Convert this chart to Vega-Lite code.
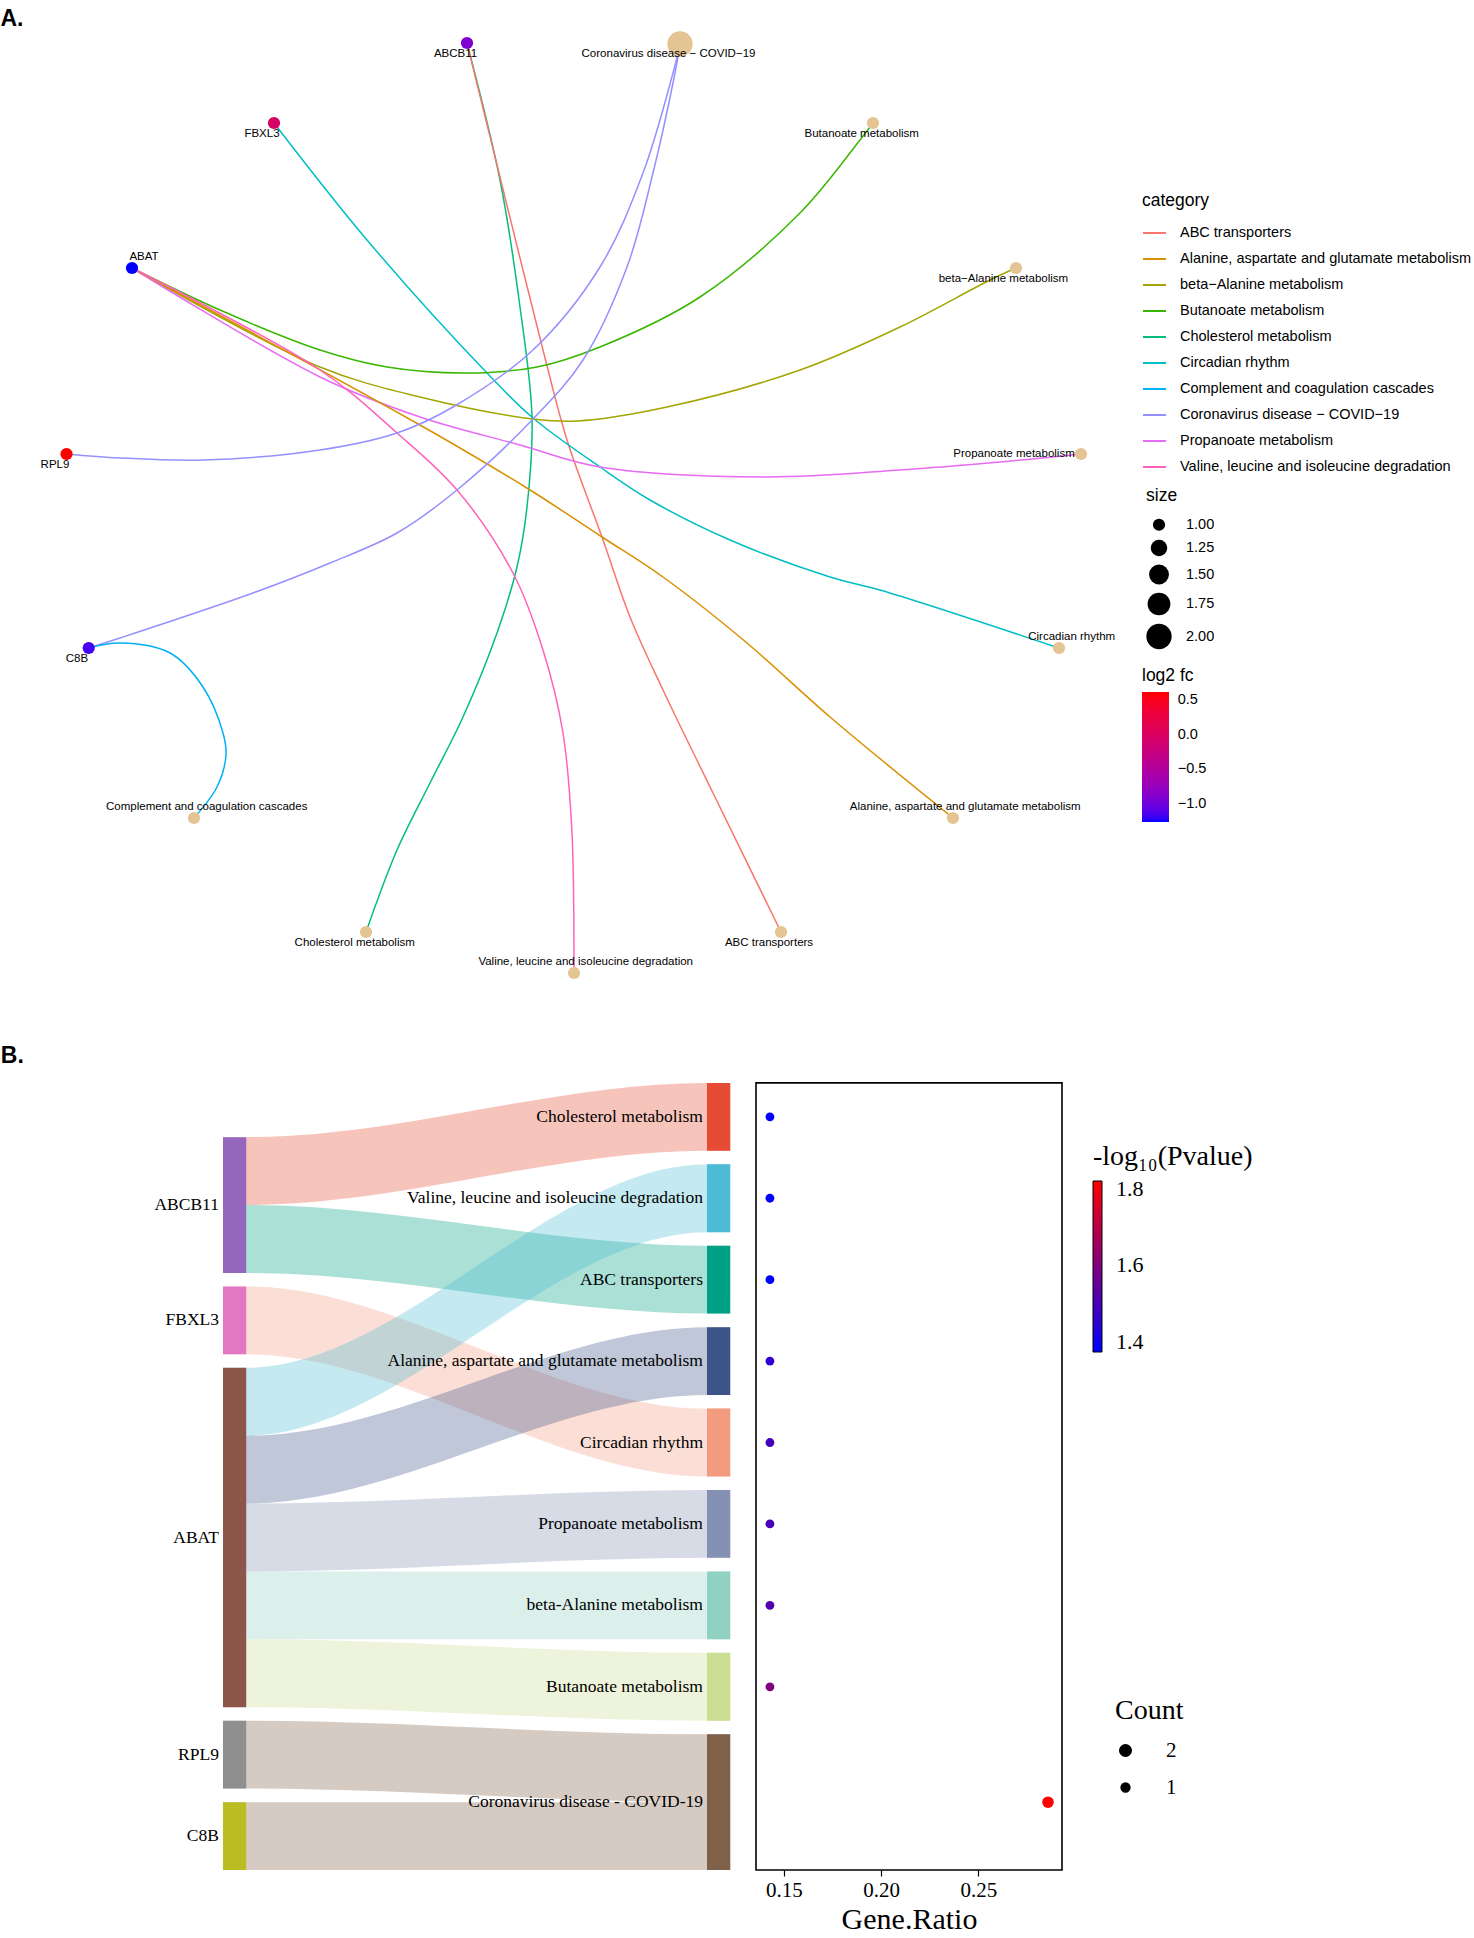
{
  "$schema": "https://vega.github.io/schema/vega-lite/v6.json",
  "padding": 0,
  "background": "white",
  "spacing": 40,
  "config": {
    "view": {"stroke": null},
    "legend": {"padding": 0}
  },
  "resolve": {
    "scale": {"color": "independent", "size": "independent", "x": "independent", "y": "independent"},
    "legend": {"color": "independent", "size": "independent"}
  },
  "datasets": {
    "edges": [
      {"edge": "ABCB11|Chol", "category": "Cholesterol metabolism", "i": 0, "x": 4.67, "y": 0.43},
      {"edge": "ABCB11|Chol", "category": "Cholesterol metabolism", "i": 1, "x": 5.00, "y": 1.80},
      {"edge": "ABCB11|Chol", "category": "Cholesterol metabolism", "i": 2, "x": 5.20, "y": 3.07},
      {"edge": "ABCB11|Chol", "category": "Cholesterol metabolism", "i": 3, "x": 5.32, "y": 4.17},
      {"edge": "ABCB11|Chol", "category": "Cholesterol metabolism", "i": 4, "x": 5.27, "y": 5.07},
      {"edge": "ABCB11|Chol", "category": "Cholesterol metabolism", "i": 5, "x": 5.17, "y": 5.67},
      {"edge": "ABCB11|Chol", "category": "Cholesterol metabolism", "i": 6, "x": 4.97, "y": 6.33},
      {"edge": "ABCB11|Chol", "category": "Cholesterol metabolism", "i": 7, "x": 4.63, "y": 7.17},
      {"edge": "ABCB11|Chol", "category": "Cholesterol metabolism", "i": 8, "x": 4.30, "y": 7.83},
      {"edge": "ABCB11|Chol", "category": "Cholesterol metabolism", "i": 9, "x": 3.97, "y": 8.50},
      {"edge": "ABCB11|Chol", "category": "Cholesterol metabolism", "i": 10, "x": 3.66, "y": 9.32},

      {"edge": "ABCB11|ABC", "category": "ABC transporters", "i": 0, "x": 4.67, "y": 0.43},
      {"edge": "ABCB11|ABC", "category": "ABC transporters", "i": 1, "x": 5.00, "y": 1.77},
      {"edge": "ABCB11|ABC", "category": "ABC transporters", "i": 2, "x": 5.43, "y": 3.50},
      {"edge": "ABCB11|ABC", "category": "ABC transporters", "i": 3, "x": 5.67, "y": 4.40},
      {"edge": "ABCB11|ABC", "category": "ABC transporters", "i": 4, "x": 6.02, "y": 5.37},
      {"edge": "ABCB11|ABC", "category": "ABC transporters", "i": 5, "x": 6.30, "y": 6.17},
      {"edge": "ABCB11|ABC", "category": "ABC transporters", "i": 6, "x": 6.63, "y": 6.90},
      {"edge": "ABCB11|ABC", "category": "ABC transporters", "i": 7, "x": 7.13, "y": 7.93},
      {"edge": "ABCB11|ABC", "category": "ABC transporters", "i": 8, "x": 7.81, "y": 9.32},

      {"edge": "FBXL3|Circ", "category": "Circadian rhythm", "i": 0, "x": 2.74, "y": 1.23},
      {"edge": "FBXL3|Circ", "category": "Circadian rhythm", "i": 1, "x": 3.67, "y": 2.40},
      {"edge": "FBXL3|Circ", "category": "Circadian rhythm", "i": 2, "x": 4.87, "y": 3.73},
      {"edge": "FBXL3|Circ", "category": "Circadian rhythm", "i": 3, "x": 5.33, "y": 4.18},
      {"edge": "FBXL3|Circ", "category": "Circadian rhythm", "i": 4, "x": 6.00, "y": 4.67},
      {"edge": "FBXL3|Circ", "category": "Circadian rhythm", "i": 5, "x": 6.50, "y": 5.00},
      {"edge": "FBXL3|Circ", "category": "Circadian rhythm", "i": 6, "x": 7.30, "y": 5.40},
      {"edge": "FBXL3|Circ", "category": "Circadian rhythm", "i": 7, "x": 8.30, "y": 5.77},
      {"edge": "FBXL3|Circ", "category": "Circadian rhythm", "i": 8, "x": 8.80, "y": 5.90},
      {"edge": "FBXL3|Circ", "category": "Circadian rhythm", "i": 9, "x": 10.59, "y": 6.48},

      {"edge": "ABAT|But", "category": "Butanoate metabolism", "i": 0, "x": 1.32, "y": 2.68},
      {"edge": "ABAT|But", "category": "Butanoate metabolism", "i": 1, "x": 2.20, "y": 3.10},
      {"edge": "ABAT|But", "category": "Butanoate metabolism", "i": 2, "x": 3.20, "y": 3.50},
      {"edge": "ABAT|But", "category": "Butanoate metabolism", "i": 3, "x": 3.87, "y": 3.67},
      {"edge": "ABAT|But", "category": "Butanoate metabolism", "i": 4, "x": 4.67, "y": 3.73},
      {"edge": "ABAT|But", "category": "Butanoate metabolism", "i": 5, "x": 5.37, "y": 3.67},
      {"edge": "ABAT|But", "category": "Butanoate metabolism", "i": 6, "x": 6.00, "y": 3.47},
      {"edge": "ABAT|But", "category": "Butanoate metabolism", "i": 7, "x": 7.00, "y": 2.97},
      {"edge": "ABAT|But", "category": "Butanoate metabolism", "i": 8, "x": 8.00, "y": 2.13},
      {"edge": "ABAT|But", "category": "Butanoate metabolism", "i": 9, "x": 8.60, "y": 1.40},
      {"edge": "ABAT|But", "category": "Butanoate metabolism", "i": 10, "x": 8.73, "y": 1.23},

      {"edge": "ABAT|beta", "category": "beta−Alanine metabolism", "i": 0, "x": 1.32, "y": 2.68},
      {"edge": "ABAT|beta", "category": "beta−Alanine metabolism", "i": 1, "x": 3.20, "y": 3.67},
      {"edge": "ABAT|beta", "category": "beta−Alanine metabolism", "i": 2, "x": 4.20, "y": 3.97},
      {"edge": "ABAT|beta", "category": "beta−Alanine metabolism", "i": 3, "x": 5.33, "y": 4.19},
      {"edge": "ABAT|beta", "category": "beta−Alanine metabolism", "i": 4, "x": 5.77, "y": 4.21},
      {"edge": "ABAT|beta", "category": "beta−Alanine metabolism", "i": 5, "x": 6.67, "y": 4.07},
      {"edge": "ABAT|beta", "category": "beta−Alanine metabolism", "i": 6, "x": 8.00, "y": 3.70},
      {"edge": "ABAT|beta", "category": "beta−Alanine metabolism", "i": 7, "x": 9.00, "y": 3.27},
      {"edge": "ABAT|beta", "category": "beta−Alanine metabolism", "i": 8, "x": 9.90, "y": 2.80},
      {"edge": "ABAT|beta", "category": "beta−Alanine metabolism", "i": 9, "x": 10.16, "y": 2.68},

      {"edge": "ABAT|Prop", "category": "Propanoate metabolism", "i": 0, "x": 1.32, "y": 2.68},
      {"edge": "ABAT|Prop", "category": "Propanoate metabolism", "i": 1, "x": 3.20, "y": 3.77},
      {"edge": "ABAT|Prop", "category": "Propanoate metabolism", "i": 2, "x": 4.20, "y": 4.17},
      {"edge": "ABAT|Prop", "category": "Propanoate metabolism", "i": 3, "x": 5.20, "y": 4.45},
      {"edge": "ABAT|Prop", "category": "Propanoate metabolism", "i": 4, "x": 6.00, "y": 4.67},
      {"edge": "ABAT|Prop", "category": "Propanoate metabolism", "i": 5, "x": 7.67, "y": 4.77},
      {"edge": "ABAT|Prop", "category": "Propanoate metabolism", "i": 6, "x": 9.00, "y": 4.70},
      {"edge": "ABAT|Prop", "category": "Propanoate metabolism", "i": 7, "x": 10.00, "y": 4.62},
      {"edge": "ABAT|Prop", "category": "Propanoate metabolism", "i": 8, "x": 10.81, "y": 4.54},

      {"edge": "ABAT|Ala", "category": "Alanine, aspartate and glutamate metabolism", "i": 0, "x": 1.32, "y": 2.68},
      {"edge": "ABAT|Ala", "category": "Alanine, aspartate and glutamate metabolism", "i": 1, "x": 4.20, "y": 4.25},
      {"edge": "ABAT|Ala", "category": "Alanine, aspartate and glutamate metabolism", "i": 2, "x": 5.30, "y": 4.90},
      {"edge": "ABAT|Ala", "category": "Alanine, aspartate and glutamate metabolism", "i": 3, "x": 6.02, "y": 5.37},
      {"edge": "ABAT|Ala", "category": "Alanine, aspartate and glutamate metabolism", "i": 4, "x": 6.63, "y": 5.77},
      {"edge": "ABAT|Ala", "category": "Alanine, aspartate and glutamate metabolism", "i": 5, "x": 7.47, "y": 6.43},
      {"edge": "ABAT|Ala", "category": "Alanine, aspartate and glutamate metabolism", "i": 6, "x": 8.30, "y": 7.17},
      {"edge": "ABAT|Ala", "category": "Alanine, aspartate and glutamate metabolism", "i": 7, "x": 9.53, "y": 8.18},

      {"edge": "ABAT|Val", "category": "Valine, leucine and isoleucine degradation", "i": 0, "x": 1.32, "y": 2.68},
      {"edge": "ABAT|Val", "category": "Valine, leucine and isoleucine degradation", "i": 1, "x": 3.20, "y": 3.70},
      {"edge": "ABAT|Val", "category": "Valine, leucine and isoleucine degradation", "i": 2, "x": 3.97, "y": 4.33},
      {"edge": "ABAT|Val", "category": "Valine, leucine and isoleucine degradation", "i": 3, "x": 4.57, "y": 4.90},
      {"edge": "ABAT|Val", "category": "Valine, leucine and isoleucine degradation", "i": 4, "x": 5.13, "y": 5.73},
      {"edge": "ABAT|Val", "category": "Valine, leucine and isoleucine degradation", "i": 5, "x": 5.43, "y": 6.50},
      {"edge": "ABAT|Val", "category": "Valine, leucine and isoleucine degradation", "i": 6, "x": 5.63, "y": 7.33},
      {"edge": "ABAT|Val", "category": "Valine, leucine and isoleucine degradation", "i": 7, "x": 5.72, "y": 8.33},
      {"edge": "ABAT|Val", "category": "Valine, leucine and isoleucine degradation", "i": 8, "x": 5.74, "y": 9.57},
      {"edge": "ABAT|Val", "category": "Valine, leucine and isoleucine degradation", "i": 9, "x": 5.74, "y": 9.73},

      {"edge": "RPL9|COVID", "category": "Coronavirus disease − COVID−19", "i": 0, "x": 0.665, "y": 4.54},
      {"edge": "RPL9|COVID", "category": "Coronavirus disease − COVID−19", "i": 1, "x": 1.20, "y": 4.58},
      {"edge": "RPL9|COVID", "category": "Coronavirus disease − COVID−19", "i": 2, "x": 2.03, "y": 4.60},
      {"edge": "RPL9|COVID", "category": "Coronavirus disease − COVID−19", "i": 3, "x": 3.20, "y": 4.50},
      {"edge": "RPL9|COVID", "category": "Coronavirus disease − COVID−19", "i": 4, "x": 3.97, "y": 4.33},
      {"edge": "RPL9|COVID", "category": "Coronavirus disease − COVID−19", "i": 5, "x": 4.53, "y": 4.07},
      {"edge": "RPL9|COVID", "category": "Coronavirus disease − COVID−19", "i": 6, "x": 5.33, "y": 3.50},
      {"edge": "RPL9|COVID", "category": "Coronavirus disease − COVID−19", "i": 7, "x": 6.00, "y": 2.67},
      {"edge": "RPL9|COVID", "category": "Coronavirus disease − COVID−19", "i": 8, "x": 6.43, "y": 1.73},
      {"edge": "RPL9|COVID", "category": "Coronavirus disease − COVID−19", "i": 9, "x": 6.73, "y": 0.73},
      {"edge": "RPL9|COVID", "category": "Coronavirus disease − COVID−19", "i": 10, "x": 6.80, "y": 0.45},

      {"edge": "C8B|COVID", "category": "Coronavirus disease − COVID−19", "i": 0, "x": 0.887, "y": 6.48},
      {"edge": "C8B|COVID", "category": "Coronavirus disease − COVID−19", "i": 1, "x": 1.20, "y": 6.38},
      {"edge": "C8B|COVID", "category": "Coronavirus disease − COVID−19", "i": 2, "x": 2.53, "y": 5.93},
      {"edge": "C8B|COVID", "category": "Coronavirus disease − COVID−19", "i": 3, "x": 3.30, "y": 5.63},
      {"edge": "C8B|COVID", "category": "Coronavirus disease − COVID−19", "i": 4, "x": 3.97, "y": 5.33},
      {"edge": "C8B|COVID", "category": "Coronavirus disease − COVID−19", "i": 5, "x": 4.57, "y": 4.90},
      {"edge": "C8B|COVID", "category": "Coronavirus disease − COVID−19", "i": 6, "x": 5.33, "y": 4.19},
      {"edge": "C8B|COVID", "category": "Coronavirus disease − COVID−19", "i": 7, "x": 5.83, "y": 3.60},
      {"edge": "C8B|COVID", "category": "Coronavirus disease − COVID−19", "i": 8, "x": 6.27, "y": 2.67},
      {"edge": "C8B|COVID", "category": "Coronavirus disease − COVID−19", "i": 9, "x": 6.53, "y": 1.73},
      {"edge": "C8B|COVID", "category": "Coronavirus disease − COVID−19", "i": 10, "x": 6.75, "y": 0.73},
      {"edge": "C8B|COVID", "category": "Coronavirus disease − COVID−19", "i": 11, "x": 6.80, "y": 0.45},

      {"edge": "C8B|Comp", "category": "Complement and coagulation cascades", "i": 0, "x": 0.887, "y": 6.48},
      {"edge": "C8B|Comp", "category": "Complement and coagulation cascades", "i": 1, "x": 1.20, "y": 6.43},
      {"edge": "C8B|Comp", "category": "Complement and coagulation cascades", "i": 2, "x": 1.70, "y": 6.53},
      {"edge": "C8B|Comp", "category": "Complement and coagulation cascades", "i": 3, "x": 2.03, "y": 6.87},
      {"edge": "C8B|Comp", "category": "Complement and coagulation cascades", "i": 4, "x": 2.23, "y": 7.33},
      {"edge": "C8B|Comp", "category": "Complement and coagulation cascades", "i": 5, "x": 2.26, "y": 7.55},
      {"edge": "C8B|Comp", "category": "Complement and coagulation cascades", "i": 6, "x": 2.17, "y": 7.87},
      {"edge": "C8B|Comp", "category": "Complement and coagulation cascades", "i": 7, "x": 1.94, "y": 8.18}
    ],
    "netNodes": [
      {"name": "ABCB11", "kind": "gene", "x": 4.67, "y": 0.43, "lx": 4.555, "ly": 0.54, "log2fc": -0.92},
      {"name": "FBXL3", "kind": "gene", "x": 2.74, "y": 1.23, "lx": 2.62, "ly": 1.34, "log2fc": -0.05},
      {"name": "ABAT", "kind": "gene", "x": 1.32, "y": 2.68, "lx": 1.44, "ly": 2.57, "log2fc": -1.257},
      {"name": "RPL9", "kind": "gene", "x": 0.665, "y": 4.54, "lx": 0.55, "ly": 4.65, "log2fc": 0.614},
      {"name": "C8B", "kind": "gene", "x": 0.887, "y": 6.48, "lx": 0.77, "ly": 6.59, "log2fc": -1.16},
      {"name": "Coronavirus disease − COVID−19", "kind": "category", "x": 6.80, "y": 0.44, "lx": 6.685, "ly": 0.54, "size": 2},
      {"name": "Butanoate metabolism", "kind": "category", "x": 8.73, "y": 1.23, "lx": 8.617, "ly": 1.34, "size": 1},
      {"name": "beta−Alanine metabolism", "kind": "category", "x": 10.16, "y": 2.68, "lx": 10.034, "ly": 2.79, "size": 1},
      {"name": "Propanoate metabolism", "kind": "category", "x": 10.81, "y": 4.54, "lx": 10.14, "ly": 4.54, "size": 1},
      {"name": "Circadian rhythm", "kind": "category", "x": 10.59, "y": 6.48, "lx": 10.717, "ly": 6.37, "size": 1},
      {"name": "Alanine, aspartate and glutamate metabolism", "kind": "category", "x": 9.53, "y": 8.18, "lx": 9.652, "ly": 8.07, "size": 1},
      {"name": "ABC transporters", "kind": "category", "x": 7.81, "y": 9.32, "lx": 7.69, "ly": 9.43, "size": 1},
      {"name": "Valine, leucine and isoleucine degradation", "kind": "category", "x": 5.74, "y": 9.73, "lx": 5.857, "ly": 9.62, "size": 1},
      {"name": "Cholesterol metabolism", "kind": "category", "x": 3.66, "y": 9.32, "lx": 3.547, "ly": 9.43, "size": 1},
      {"name": "Complement and coagulation cascades", "kind": "category", "x": 1.94, "y": 8.18, "lx": 2.067, "ly": 8.07, "size": 1}
    ],
    "sankeyNodes": [
      {"name": "ABCB11", "side": "gene", "x0": 0, "x1": 0.048, "y0": 0.8, "y1": 2.8},
      {"name": "FBXL3", "side": "gene", "x0": 0, "x1": 0.048, "y0": 3.0, "y1": 4.0},
      {"name": "ABAT", "side": "gene", "x0": 0, "x1": 0.048, "y0": 4.2, "y1": 9.2},
      {"name": "RPL9", "side": "gene", "x0": 0, "x1": 0.048, "y0": 9.4, "y1": 10.4},
      {"name": "C8B", "side": "gene", "x0": 0, "x1": 0.048, "y0": 10.6, "y1": 11.6},
      {"name": "Cholesterol metabolism", "side": "pathway", "x0": 1.0, "x1": 1.048, "y0": 0, "y1": 1, "GeneRatio": 0.142857, "Count": 1, "negLogP": 1.373},
      {"name": "Valine, leucine and isoleucine degradation", "side": "pathway", "x0": 1.0, "x1": 1.048, "y0": 1.2, "y1": 2.2, "GeneRatio": 0.142857, "Count": 1, "negLogP": 1.373},
      {"name": "ABC transporters", "side": "pathway", "x0": 1.0, "x1": 1.048, "y0": 2.4, "y1": 3.4, "GeneRatio": 0.142857, "Count": 1, "negLogP": 1.373},
      {"name": "Alanine, aspartate and glutamate metabolism", "side": "pathway", "x0": 1.0, "x1": 1.048, "y0": 3.6, "y1": 4.6, "GeneRatio": 0.142857, "Count": 1, "negLogP": 1.455},
      {"name": "Circadian rhythm", "side": "pathway", "x0": 1.0, "x1": 1.048, "y0": 4.8, "y1": 5.8, "GeneRatio": 0.142857, "Count": 1, "negLogP": 1.49},
      {"name": "Propanoate metabolism", "side": "pathway", "x0": 1.0, "x1": 1.048, "y0": 6.0, "y1": 7.0, "GeneRatio": 0.142857, "Count": 1, "negLogP": 1.50},
      {"name": "beta-Alanine metabolism", "side": "pathway", "x0": 1.0, "x1": 1.048, "y0": 7.2, "y1": 8.2, "GeneRatio": 0.142857, "Count": 1, "negLogP": 1.515},
      {"name": "Butanoate metabolism", "side": "pathway", "x0": 1.0, "x1": 1.048, "y0": 8.4, "y1": 9.4, "GeneRatio": 0.142857, "Count": 1, "negLogP": 1.60},
      {"name": "Coronavirus disease - COVID-19", "side": "pathway", "x0": 1.0, "x1": 1.048, "y0": 9.6, "y1": 11.6, "GeneRatio": 0.285714, "Count": 2, "negLogP": 1.82}
    ],
    "flows": [
      {"flow": "ABCB11-Chol", "target": "Cholesterol metabolism", "x": 0, "y0": 0.8, "y1": 1.8},
      {"flow": "ABCB11-Chol", "target": "Cholesterol metabolism", "x": 0.048, "y0": 0.8, "y1": 1.8},
      {"flow": "ABCB11-Chol", "target": "Cholesterol metabolism", "x": 1.0, "y0": 0, "y1": 1},
      {"flow": "ABCB11-Chol", "target": "Cholesterol metabolism", "x": 1.048, "y0": 0, "y1": 1},
      {"flow": "ABCB11-ABC", "target": "ABC transporters", "x": 0, "y0": 1.8, "y1": 2.8},
      {"flow": "ABCB11-ABC", "target": "ABC transporters", "x": 0.048, "y0": 1.8, "y1": 2.8},
      {"flow": "ABCB11-ABC", "target": "ABC transporters", "x": 1.0, "y0": 2.4, "y1": 3.4},
      {"flow": "ABCB11-ABC", "target": "ABC transporters", "x": 1.048, "y0": 2.4, "y1": 3.4},
      {"flow": "FBXL3-Circ", "target": "Circadian rhythm", "x": 0, "y0": 3.0, "y1": 4.0},
      {"flow": "FBXL3-Circ", "target": "Circadian rhythm", "x": 0.048, "y0": 3.0, "y1": 4.0},
      {"flow": "FBXL3-Circ", "target": "Circadian rhythm", "x": 1.0, "y0": 4.8, "y1": 5.8},
      {"flow": "FBXL3-Circ", "target": "Circadian rhythm", "x": 1.048, "y0": 4.8, "y1": 5.8},
      {"flow": "ABAT-Val", "target": "Valine, leucine and isoleucine degradation", "x": 0, "y0": 4.2, "y1": 5.2},
      {"flow": "ABAT-Val", "target": "Valine, leucine and isoleucine degradation", "x": 0.048, "y0": 4.2, "y1": 5.2},
      {"flow": "ABAT-Val", "target": "Valine, leucine and isoleucine degradation", "x": 1.0, "y0": 1.2, "y1": 2.2},
      {"flow": "ABAT-Val", "target": "Valine, leucine and isoleucine degradation", "x": 1.048, "y0": 1.2, "y1": 2.2},
      {"flow": "ABAT-Ala", "target": "Alanine, aspartate and glutamate metabolism", "x": 0, "y0": 5.2, "y1": 6.2},
      {"flow": "ABAT-Ala", "target": "Alanine, aspartate and glutamate metabolism", "x": 0.048, "y0": 5.2, "y1": 6.2},
      {"flow": "ABAT-Ala", "target": "Alanine, aspartate and glutamate metabolism", "x": 1.0, "y0": 3.6, "y1": 4.6},
      {"flow": "ABAT-Ala", "target": "Alanine, aspartate and glutamate metabolism", "x": 1.048, "y0": 3.6, "y1": 4.6},
      {"flow": "ABAT-Prop", "target": "Propanoate metabolism", "x": 0, "y0": 6.2, "y1": 7.2},
      {"flow": "ABAT-Prop", "target": "Propanoate metabolism", "x": 0.048, "y0": 6.2, "y1": 7.2},
      {"flow": "ABAT-Prop", "target": "Propanoate metabolism", "x": 1.0, "y0": 6.0, "y1": 7.0},
      {"flow": "ABAT-Prop", "target": "Propanoate metabolism", "x": 1.048, "y0": 6.0, "y1": 7.0},
      {"flow": "ABAT-beta", "target": "beta-Alanine metabolism", "x": 0, "y0": 7.2, "y1": 8.2},
      {"flow": "ABAT-beta", "target": "beta-Alanine metabolism", "x": 0.048, "y0": 7.2, "y1": 8.2},
      {"flow": "ABAT-beta", "target": "beta-Alanine metabolism", "x": 1.0, "y0": 7.2, "y1": 8.2},
      {"flow": "ABAT-beta", "target": "beta-Alanine metabolism", "x": 1.048, "y0": 7.2, "y1": 8.2},
      {"flow": "ABAT-But", "target": "Butanoate metabolism", "x": 0, "y0": 8.2, "y1": 9.2},
      {"flow": "ABAT-But", "target": "Butanoate metabolism", "x": 0.048, "y0": 8.2, "y1": 9.2},
      {"flow": "ABAT-But", "target": "Butanoate metabolism", "x": 1.0, "y0": 8.4, "y1": 9.4},
      {"flow": "ABAT-But", "target": "Butanoate metabolism", "x": 1.048, "y0": 8.4, "y1": 9.4},
      {"flow": "RPL9-COVID", "target": "Coronavirus disease - COVID-19", "x": 0, "y0": 9.4, "y1": 10.4},
      {"flow": "RPL9-COVID", "target": "Coronavirus disease - COVID-19", "x": 0.048, "y0": 9.4, "y1": 10.4},
      {"flow": "RPL9-COVID", "target": "Coronavirus disease - COVID-19", "x": 1.0, "y0": 9.6, "y1": 10.6},
      {"flow": "RPL9-COVID", "target": "Coronavirus disease - COVID-19", "x": 1.048, "y0": 9.6, "y1": 10.6},
      {"flow": "C8B-COVID", "target": "Coronavirus disease - COVID-19", "x": 0, "y0": 10.6, "y1": 11.6},
      {"flow": "C8B-COVID", "target": "Coronavirus disease - COVID-19", "x": 0.048, "y0": 10.6, "y1": 11.6},
      {"flow": "C8B-COVID", "target": "Coronavirus disease - COVID-19", "x": 1.0, "y0": 10.6, "y1": 11.6},
      {"flow": "C8B-COVID", "target": "Coronavirus disease - COVID-19", "x": 1.048, "y0": 10.6, "y1": 11.6}
    ]
  },
  "vconcat": [
    {
      "width": 1110,
      "height": 1000,
      "resolve": {"scale": {"color": "independent"}, "legend": {"color": "independent"}},
      "layer": [
        {
          "data": {"name": "edges"},
          "mark": {"type": "line", "interpolate": "catmull-rom", "strokeWidth": 1.5},
          "encoding": {
            "x": {"field": "x", "type": "quantitative", "scale": {"domain": [0, 11.1], "nice": false, "zero": false}, "axis": null},
            "y": {"field": "y", "type": "quantitative", "scale": {"domain": [0, 10], "nice": false, "zero": false, "reverse": true}, "axis": null},
            "color": {
              "field": "category", "type": "nominal",
              "scale": {
                "domain": ["ABC transporters", "Alanine, aspartate and glutamate metabolism", "beta−Alanine metabolism", "Butanoate metabolism", "Cholesterol metabolism", "Circadian rhythm", "Complement and coagulation cascades", "Coronavirus disease − COVID−19", "Propanoate metabolism", "Valine, leucine and isoleucine degradation"],
                "range": ["#F8766D", "#D89000", "#A3A500", "#39B600", "#00BF7D", "#00BFC4", "#00B0F6", "#9590FF", "#E76BF3", "#FF62BC"]
              },
              "legend": {
                "orient": "none", "legendX": 1142, "legendY": 192,
                "title": "category", "titleFont": "Liberation Sans", "titleFontSize": 17.5, "titleFontWeight": "normal", "titleColor": "black", "titlePadding": 11,
                "labelFont": "Liberation Sans", "labelFontSize": 14.5, "labelColor": "black", "labelLimit": 400, "labelOffset": 13,
                "symbolType": "stroke", "symbolSize": 529, "symbolStrokeWidth": 2, "rowPadding": 7
              }
            },
            "detail": {"field": "edge", "type": "nominal"},
            "order": {"field": "i", "type": "quantitative"}
          }
        },
        {
          "data": {"name": "netNodes"},
          "transform": [{"filter": "datum.kind === 'category'"}],
          "mark": {"type": "circle", "opacity": 1},
          "encoding": {
            "x": {"field": "x", "type": "quantitative", "scale": {"domain": [0, 11.1], "nice": false, "zero": false}, "axis": null},
            "y": {"field": "y", "type": "quantitative", "scale": {"domain": [0, 10], "nice": false, "zero": false, "reverse": true}, "axis": null},
            "color": {"field": "kind", "type": "nominal", "scale": {"domain": ["category"], "range": ["#E5C494"]}, "legend": null},
            "size": {
              "field": "size", "type": "quantitative",
              "scale": {"domain": [1, 2], "range": [150, 640], "zero": false},
              "legend": {
                "orient": "none", "legendX": 1146, "legendY": 487,
                "title": "size", "values": [1, 1.25, 1.5, 1.75, 2], "format": ".2f",
                "titleFont": "Liberation Sans", "titleFontSize": 17.5, "titleFontWeight": "normal", "titleColor": "black", "titlePadding": 13,
                "labelFont": "Liberation Sans", "labelFontSize": 14.5, "labelColor": "black", "labelOffset": 14,
                "symbolType": "circle", "rowPadding": 8,
                "symbolFillColor": "black", "symbolStrokeColor": "black", "symbolStrokeWidth": 0, "symbolOpacity": 1
              }
            }
          }
        },
        {
          "data": {"name": "netNodes"},
          "transform": [{"filter": "datum.kind === 'gene'"}],
          "mark": {"type": "circle", "opacity": 1, "size": 150},
          "encoding": {
            "x": {"field": "x", "type": "quantitative", "scale": {"domain": [0, 11.1], "nice": false, "zero": false}, "axis": null},
            "y": {"field": "y", "type": "quantitative", "scale": {"domain": [0, 10], "nice": false, "zero": false, "reverse": true}, "axis": null},
            "color": {
              "field": "log2fc", "type": "quantitative",
              "scale": {"domain": [-1.257, 0.614], "range": ["#0000FF", "#FF0000"], "interpolate": "lab"},
              "legend": {
                "orient": "none", "legendX": 1142, "legendY": 667, "type": "gradient",
                "title": "log2 fc", "titleFont": "Liberation Sans", "titleFontSize": 17.5, "titleFontWeight": "normal", "titleColor": "black", "titlePadding": 7.5,
                "labelFont": "Liberation Sans", "labelFontSize": 14.5, "labelColor": "black", "labelOffset": 8.7, "labelOverlap": false,
                "values": [-1, -0.5, 0, 0.5], "format": ".1f",
                "gradientLength": 130, "gradientThickness": 27, "gradientStrokeWidth": 0
              }
            }
          }
        },
        {
          "data": {"name": "netNodes"},
          "mark": {"type": "text", "font": "Liberation Sans", "fontSize": 11.5, "align": "center", "baseline": "middle", "color": "black"},
          "encoding": {
            "x": {"field": "lx", "type": "quantitative", "scale": {"domain": [0, 11.1], "nice": false, "zero": false}, "axis": null},
            "y": {"field": "ly", "type": "quantitative", "scale": {"domain": [0, 10], "nice": false, "zero": false, "reverse": true}, "axis": null},
            "text": {"field": "name", "type": "nominal"}
          }
        },
        {
          "data": {"values": [{"label": "A."}]},
          "mark": {"type": "text", "font": "Liberation Sans", "fontSize": 23, "fontWeight": "bold", "align": "left", "baseline": "middle", "color": "black"},
          "encoding": {
            "x": {"datum": 0.005, "type": "quantitative", "axis": null},
            "y": {"datum": 0.185, "type": "quantitative", "axis": null},
            "text": {"field": "label", "type": "nominal"}
          }
        }
      ]
    },
    {
      "spacing": 15,
      "resolve": {
        "scale": {"color": "independent", "size": "independent", "x": "independent", "y": "independent"},
        "legend": {"color": "independent", "size": "independent"}
      },
      "hconcat": [
        {
          "width": 740,
          "height": 830,
          "layer": [
            {
              "data": {"name": "flows"},
              "mark": {"type": "area", "interpolate": "monotone", "opacity": 0.33},
              "encoding": {
                "x": {"field": "x", "type": "quantitative", "scale": {"domain": [-0.4607, 1.0682], "nice": false, "zero": false}, "axis": null},
                "y": {"field": "y0", "type": "quantitative", "stack": null, "scale": {"domain": [-0.632, 11.6], "nice": false, "zero": false, "reverse": true}, "axis": null},
                "y2": {"field": "y1"},
                "color": {
                  "field": "target", "type": "nominal", "legend": null,
                  "scale": {
                    "domain": ["ABCB11", "FBXL3", "ABAT", "RPL9", "C8B", "Cholesterol metabolism", "Valine, leucine and isoleucine degradation", "ABC transporters", "Alanine, aspartate and glutamate metabolism", "Circadian rhythm", "Propanoate metabolism", "beta-Alanine metabolism", "Butanoate metabolism", "Coronavirus disease - COVID-19"],
                    "range": ["#9467BD", "#E377C2", "#8C564B", "#8F8F8F", "#BCBD22", "#E64B35", "#4DBBD5", "#00A087", "#3C5488", "#F39B7F", "#8491B4", "#91D1C2", "#CADF92", "#7E6148"]
                  }
                },
                "detail": {"field": "flow", "type": "nominal"}
              }
            },
            {
              "data": {"name": "sankeyNodes"},
              "mark": {"type": "rect"},
              "encoding": {
                "x": {"field": "x0", "type": "quantitative", "scale": {"domain": [-0.4607, 1.0682], "nice": false, "zero": false}, "axis": null},
                "x2": {"field": "x1"},
                "y": {"field": "y0", "type": "quantitative", "scale": {"domain": [-0.632, 11.6], "nice": false, "zero": false, "reverse": true}, "axis": null},
                "y2": {"field": "y1"},
                "color": {
                  "field": "name", "type": "nominal", "legend": null,
                  "scale": {
                    "domain": ["ABCB11", "FBXL3", "ABAT", "RPL9", "C8B", "Cholesterol metabolism", "Valine, leucine and isoleucine degradation", "ABC transporters", "Alanine, aspartate and glutamate metabolism", "Circadian rhythm", "Propanoate metabolism", "beta-Alanine metabolism", "Butanoate metabolism", "Coronavirus disease - COVID-19"],
                    "range": ["#9467BD", "#E377C2", "#8C564B", "#8F8F8F", "#BCBD22", "#E64B35", "#4DBBD5", "#00A087", "#3C5488", "#F39B7F", "#8491B4", "#91D1C2", "#CADF92", "#7E6148"]
                  }
                }
              }
            },
            {
              "data": {"name": "sankeyNodes"},
              "transform": [{"calculate": "(datum.y0 + datum.y1) / 2", "as": "ymid"}],
              "mark": {"type": "text", "font": "Liberation Serif", "fontSize": 17.5, "align": "right", "baseline": "middle", "dx": -4, "color": "black"},
              "encoding": {
                "x": {"field": "x0", "type": "quantitative", "scale": {"domain": [-0.4607, 1.0682], "nice": false, "zero": false}, "axis": null},
                "y": {"field": "ymid", "type": "quantitative", "scale": {"domain": [-0.632, 11.6], "nice": false, "zero": false, "reverse": true}, "axis": null},
                "text": {"field": "name", "type": "nominal"}
              }
            },
            {
              "data": {"values": [{"label": "B."}]},
              "mark": {"type": "text", "font": "Liberation Sans", "fontSize": 23, "fontWeight": "bold", "align": "left", "baseline": "middle", "color": "black"},
              "encoding": {
                "x": {"datum": -0.459, "type": "quantitative", "axis": null},
                "y": {"datum": -0.4, "type": "quantitative", "axis": null},
                "text": {"field": "label", "type": "nominal"}
              }
            }
          ]
        },
        {
          "width": 306,
          "height": 830,
          "layer": [
            {
              "data": {"values": [{"frame": "panel"}]},
              "mark": {"type": "rect", "filled": false, "stroke": "black", "strokeWidth": 1.6},
              "encoding": {
                "x": {
                  "datum": 0.1357, "type": "quantitative",
                  "scale": {"domain": [0.1357, 0.2929], "nice": false, "zero": false},
                  "axis": {
                    "title": "Gene.Ratio", "values": [0.15, 0.2, 0.25], "format": ".2f",
                    "domain": false, "grid": false, "ticks": true, "tickColor": "black", "tickSize": 6, "tickWidth": 1.2,
                    "labelFont": "Liberation Serif", "labelFontSize": 21, "labelColor": "black", "labelPadding": 3,
                    "titleFont": "Liberation Serif", "titleFontSize": 30, "titleFontWeight": "normal", "titleColor": "black", "titlePadding": 4
                  }
                },
                "x2": {"datum": 0.2929},
                "y": {"datum": 0, "type": "quantitative", "axis": null},
                "y2": {"datum": 11.6}
              }
            },
            {
              "data": {"name": "sankeyNodes"},
              "transform": [
                {"filter": "datum.side === 'pathway'"},
                {"calculate": "(datum.y0 + datum.y1) / 2", "as": "ymid"}
              ],
              "mark": {"type": "circle", "opacity": 1},
              "encoding": {
                "x": {
                  "field": "GeneRatio", "type": "quantitative",
                  "scale": {"domain": [0.1357, 0.2929], "nice": false, "zero": false},
                  "axis": {
                    "title": "Gene.Ratio", "values": [0.15, 0.2, 0.25], "format": ".2f",
                    "domain": false, "grid": false, "ticks": true, "tickColor": "black", "tickSize": 6, "tickWidth": 1.2,
                    "labelFont": "Liberation Serif", "labelFontSize": 21, "labelColor": "black", "labelPadding": 3,
                    "titleFont": "Liberation Serif", "titleFontSize": 30, "titleFontWeight": "normal", "titleColor": "black", "titlePadding": 4
                  }
                },
                "y": {"field": "ymid", "type": "quantitative", "scale": {"domain": [-0.632, 11.6], "nice": false, "zero": false, "reverse": true}, "axis": null},
                "color": {
                  "field": "negLogP", "type": "quantitative",
                  "scale": {"domain": [1.373, 1.82], "range": ["#0000FF", "#FF0000"], "interpolate": "rgb"},
                  "legend": {
                    "orient": "none", "legendX": 337, "legendY": 103, "type": "gradient",
                    "title": "-log₁₀(Pvalue)", "titleFont": "Liberation Serif", "titleFontSize": 28, "titleFontWeight": "normal", "titleColor": "black", "titlePadding": 10, "titleLimit": 400,
                    "labelFont": "Liberation Serif", "labelFontSize": 22, "labelColor": "black", "labelOffset": 14, "labelOverlap": false,
                    "values": [1.4, 1.6, 1.8], "format": ".1f",
                    "gradientLength": 171, "gradientThickness": 9, "gradientStrokeColor": "black", "gradientStrokeWidth": 1
                  }
                },
                "size": {
                  "field": "Count", "type": "quantitative",
                  "scale": {"domain": [1, 2], "range": [78, 133], "zero": false},
                  "legend": {
                    "orient": "none", "legendX": 359, "legendY": 657,
                    "title": "Count", "values": [2, 1], "format": "d",
                    "titleFont": "Liberation Serif", "titleFontSize": 28, "titleFontWeight": "normal", "titleColor": "black", "titlePadding": 15,
                    "labelFont": "Liberation Serif", "labelFontSize": 21, "labelColor": "black", "labelOffset": 30,
                    "symbolType": "circle", "rowPadding": 15,
                    "symbolFillColor": "black", "symbolStrokeColor": "black", "symbolOpacity": 1
                  }
                }
              }
            }
          ]
        }
      ]
    }
  ]
}
